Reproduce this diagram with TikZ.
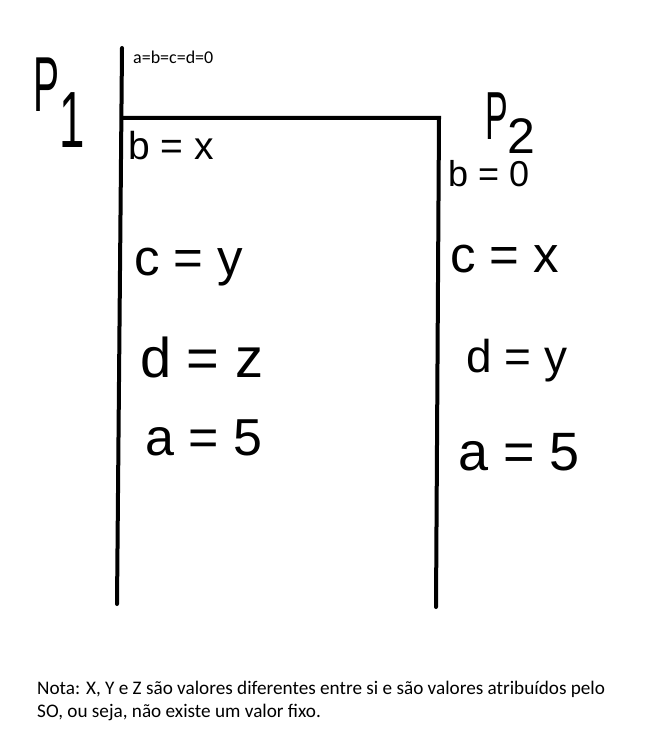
\documentclass[tikz,border=0pt]{standalone}
\usepackage{fontspec}
\setmainfont{Carlito}
\newfontfamily\hand{Liberation Sans}
\begin{document}
\begin{tikzpicture}[x=1pt,y=-1pt,
  wall/.style={line width=4pt,line cap=round},
  hw/.style={font=\hand\fontsize{#1}{#1}\selectfont,anchor=base west,inner sep=0pt},
  note/.style={font=\fontsize{19.2}{23}\selectfont,anchor=north west,align=left,inner sep=0pt}]
\useasboundingbox (0,0) rectangle (666,735);
% walls
\coordinate (p1top) at (122,48);
\coordinate (p1bot) at (117,604);
\coordinate (corner1) at (122,118);
\coordinate (corner2) at (439,118);
\coordinate (p2bot) at (436,607);
\draw[wall] (p1top) -- (p1bot);
\draw[wall] (corner1) -- (corner2) -- (p2bot);
% labels
\node[font=\fontsize{18}{18}\selectfont,anchor=base west,inner sep=0pt] (init) at (133,64) {a=b=c=d=0};
\node[hw=78] (P1) at (33,112) {\scalebox{0.5}[1]{P}\raisebox{-36pt}{\scalebox{0.6}[1.05]{\fontsize{76}{76}\selectfont 1}}};
\node[hw=68] (P2) at (485,140) {\scalebox{0.5}[1]{P}\raisebox{-14pt}{\fontsize{50}{50}\selectfont 2}};
% process 1
\node[hw=39] (b1) at (128,160) {b = x};
\node[hw=51] (c1) at (134,275) {c = y};
\node[hw=56] (d1) at (140,377) {d = z};
\node[hw=52] (a1) at (145,455) {a = 5};
% process 2
\node[hw=36] (b2) at (448,187) {b = 0};
\node[hw=51] (c2) at (450,272) {c = x};
\node[hw=46] (d2) at (466,372) {d = y};
\node[hw=54] (a2) at (458,470) {a = 5};
% note
\node[note] (nota) at (37,681) {Nota: X, Y e Z são valores diferentes entre si e são valores atribuídos pelo\\SO, ou seja, não existe um valor fixo.};
\end{tikzpicture}
\end{document}
